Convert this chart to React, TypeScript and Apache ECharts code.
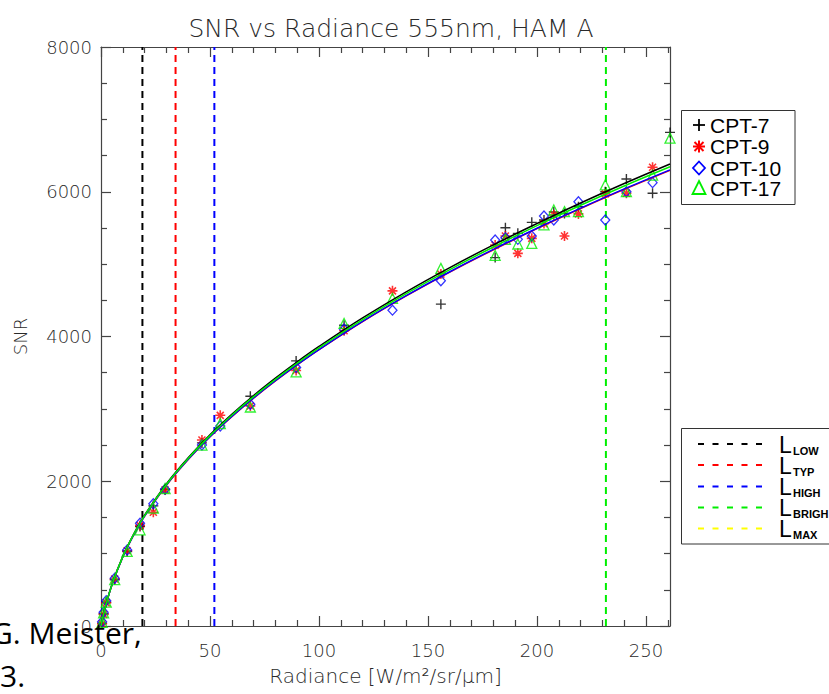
import React, { useEffect, useRef } from "react";
import * as echarts from "echarts";

// ---------- axis ticks ----------
const xTickValues = [0, 50, 100, 150, 200, 250];
const xMinorTickValues = [10, 20, 30, 40, 60, 70, 80, 90, 110, 120, 130, 140, 160, 170, 180, 190, 210, 220, 230, 240, 260];
const yMinorTickValues = [500, 1000, 1500, 2500, 3000, 3500, 4500, 5000, 5500, 6500, 7000, 7500];

// ---------- measured points ----------
const rad7 = [0.5, 1.2, 2.4, 6.3, 12.0, 17.9, 24.0, 29.4, 46.3, 68.5, 89.5, 111.5, 155.9, 180.8, 185.5, 191.2, 197.6, 203.2, 207.7, 212.6, 219.0, 231.3, 241.0, 253.0, 261.0];
const snr7 = [40, 170, 330, 640, 1030, 1374, 1660, 1890, 2530, 3174, 3663, 4156, 4447, 5090, 5503, 5425, 5577, 5610, 5720, 5700, 5794, 6000, 6177, 5979, 6820];

const rad9 = [0.5, 1.2, 2.4, 6.3, 12.0, 17.9, 24.0, 29.4, 46.3, 54.7, 68.5, 89.5, 111.5, 133.7, 155.9, 180.8, 185.5, 191.2, 197.6, 203.2, 207.7, 212.6, 219.0, 231.3, 241.0, 253.0];
const snr9 = [30, 160, 320, 650, 1040, 1390, 1572, 1880, 2570, 2911, 3040, 3530, 4080, 4631, 4862, 5263, 5388, 5149, 5356, 5560, 5679, 5388, 5694, 5970, 5980, 6339];

const rad10 = [0.5, 1.2, 2.4, 6.3, 12.0, 17.9, 24.0, 29.4, 46.3, 54.7, 68.5, 89.5, 111.5, 133.7, 155.9, 180.8, 185.5, 191.2, 197.6, 203.2, 207.7, 219.0, 231.3, 241.0, 253.0];
const snr10 = [60, 190, 350, 660, 1050, 1420, 1690, 1890, 2500, 2762, 3063, 3571, 4100, 4364, 4770, 5333, 5365, 5342, 5388, 5665, 5610, 5863, 5610, 6001, 6126];

const rad17 = [0.5, 1.2, 2.4, 6.3, 12.0, 17.9, 24.0, 29.4, 46.3, 54.7, 68.5, 89.5, 111.5, 133.7, 155.9, 180.8, 185.5, 191.2, 197.6, 203.2, 207.7, 212.6, 219.0, 231.3, 241.0, 253.0, 261.0];
const snr17 = [50, 180, 330, 640, 1030, 1329, 1630, 1900, 2500, 2796, 3026, 3510, 4180, 4526, 4941, 5120, 5342, 5278, 5287, 5541, 5748, 5725, 5725, 6094, 6001, 6230, 6740];

// ---------- fitted curves ----------
const fitRadiance = [0, 2, 5, 10, 15, 20, 30, 40, 50, 60, 70, 80, 90, 100, 120, 140, 160, 180, 200, 220, 240, 261];
const fit7 = [0, 263, 571, 962, 1271, 1531, 1964, 2325, 2642, 2925, 3184, 3424, 3650, 3862, 4256, 4617, 4952, 5266, 5562, 5845, 6114, 6384];
const fit9 = [0, 260, 565, 953, 1259, 1517, 1945, 2301, 2614, 2893, 3149, 3386, 3608, 3817, 4205, 4560, 4890, 5199, 5490, 5767, 6032, 6296];
const fit10 = [0, 261, 566, 954, 1260, 1518, 1947, 2303, 2616, 2896, 3152, 3389, 3611, 3820, 4209, 4564, 4895, 5204, 5496, 5773, 6039, 6303];
const fit17 = [0, 262, 568, 958, 1266, 1525, 1956, 2315, 2630, 2912, 3169, 3408, 3632, 3843, 4234, 4593, 4925, 5237, 5532, 5813, 6080, 6345];

// ---------- radiance levels ----------
const levelNames = ["LOW", "TYP", "HIGH", "BRIGH", "MAX"];
const levelRadiance = [19.0, 34.2, 52.0, 231.6];
const levelColors = ["#000000", "#ff0000", "#0000ff", "#00ee00", "#ffff00"];

const seriesNames = ["CPT-7", "CPT-9", "CPT-10", "CPT-17"];
const seriesColors = ["#000000", "#ff0000", "#0000ff", "#00ee00"];

const THIN = "DejaVu Sans";
const AXIS_COLOR = "#444";

const plusPath = "path://M5 0 L5 10 M0 5 L10 5";
const starPath = "path://M5 0 L5 10 M0 5 L10 5 M1.5 1.5 L8.5 8.5 M8.5 1.5 L1.5 8.5";

function zip(xs: number[], ys: number[]) {
  return xs.map((x, i) => [x, ys[i]]);
}

export default function App() {
  const ref = useRef<HTMLDivElement>(null);

  useEffect(() => {
    if (!ref.current) return;
    const chart = echarts.init(ref.current, undefined, { renderer: "svg" });

    const gridRect = { left: 101, top: 47, width: 569, height: 579 };

    const pointSeries: any[] = [
      {
        name: seriesNames[0], type: "scatter", xAxisIndex: 0, yAxisIndex: 0,
        data: zip(rad7, snr7), symbol: plusPath, symbolSize: 10,
        itemStyle: { color: "rgba(0,0,0,0)", borderColor: seriesColors[0], borderWidth: 1.4 }, z: 3,
      },
      {
        name: seriesNames[1], type: "scatter", xAxisIndex: 0, yAxisIndex: 0,
        data: zip(rad9, snr9), symbol: starPath, symbolSize: 10,
        itemStyle: { color: "rgba(0,0,0,0)", borderColor: seriesColors[1], borderWidth: 1.6 }, z: 3,
      },
      {
        name: seriesNames[2], type: "scatter", xAxisIndex: 0, yAxisIndex: 0,
        data: zip(rad10, snr10), symbol: "diamond", symbolSize: [9, 10],
        itemStyle: { color: "rgba(0,0,0,0)", borderColor: seriesColors[2], borderWidth: 1.3 }, z: 3,
      },
      {
        name: seriesNames[3], type: "scatter", xAxisIndex: 0, yAxisIndex: 0,
        data: zip(rad17, snr17), symbol: "triangle", symbolSize: [10, 10],
        itemStyle: { color: "rgba(0,0,0,0)", borderColor: seriesColors[3], borderWidth: 1.3 }, z: 3,
      },
    ];

    const fits = [fit7, fit9, fit10, fit17];
    const fitOrder = [0, 1, 2, 3];
    const fitSeries = fitOrder.map((k, i) => ({
      name: seriesNames[k] + " fit", type: "line", xAxisIndex: 0, yAxisIndex: 0,
      data: zip(fitRadiance, fits[k]), smooth: 0.4, showSymbol: false, symbol: "none",
      lineStyle: { color: seriesColors[k], width: 1.5 }, z: 4 + i, silent: true,
    }));

    const levelSeries = levelRadiance.map((v, i) => ({
      name: "L_" + levelNames[i], type: "line", xAxisIndex: 0, yAxisIndex: 0,
      data: [[v, 0], [v, 8000]], showSymbol: false, symbol: "none",
      lineStyle: { color: levelColors[i], width: 2, type: [7, 5] }, z: 2, silent: true,
    }));

    const labelFont = { fontFamily: THIN, fontWeight: 200, fontSize: 18, color: "#2a2a2a" };

    // legends (graphic)
    const graphics: any[] = [];
    const l1 = { x: 681.5, y: 110.5, w: 113.5, h: 94 };
    graphics.push({ type: "rect", shape: { x: l1.x, y: l1.y, width: l1.w, height: l1.h }, style: { fill: "#fff", stroke: "#333", lineWidth: 1 }, z: 10 });
    const rowY = [125, 146.5, 168, 188];
    const mx = 699;
    graphics.push({ type: "line", shape: { x1: mx - 6, y1: rowY[0], x2: mx + 6, y2: rowY[0] }, style: { stroke: "#000", lineWidth: 1.8 }, z: 11 });
    graphics.push({ type: "line", shape: { x1: mx, y1: rowY[0] - 6, x2: mx, y2: rowY[0] + 6 }, style: { stroke: "#000", lineWidth: 1.8 }, z: 11 });
    [[0, -6, 0, 6], [-6, 0, 6, 0], [-4.5, -4.5, 4.5, 4.5], [4.5, -4.5, -4.5, 4.5]].forEach((s) =>
      graphics.push({ type: "line", shape: { x1: mx + s[0], y1: rowY[1] + s[1], x2: mx + s[2], y2: rowY[1] + s[3] }, style: { stroke: "#ff0000", lineWidth: 2 }, z: 11 })
    );
    graphics.push({ type: "polygon", shape: { points: [[mx, rowY[2] - 6.5], [mx + 6, rowY[2]], [mx, rowY[2] + 6.5], [mx - 6, rowY[2]]] }, style: { fill: "none", stroke: "#0000ff", lineWidth: 1.8 }, z: 11 });
    graphics.push({ type: "polygon", shape: { points: [[mx, rowY[3] - 7], [mx + 6.5, rowY[3] + 6], [mx - 6.5, rowY[3] + 6]] }, style: { fill: "none", stroke: "#00ee00", lineWidth: 1.8 }, z: 11 });
    seriesNames.forEach((n, i) => {
      graphics.push({
        type: "text", x: 710, y: rowY[i],
        style: { text: n, fill: "#000", fontSize: 21, fontFamily: "Liberation Sans", align: "left", textAlign: "left", verticalAlign: "middle", textVerticalAlign: "middle" },
        z: 11,
      });
    });

    const l2 = { x: 681.5, y: 428.5, w: 160, h: 115.5 };
    graphics.push({ type: "rect", shape: { x: l2.x, y: l2.y, width: l2.w, height: l2.h }, style: { fill: "#fff", stroke: "#333", lineWidth: 1 }, z: 10 });
    const row2Y = [444, 465, 486.5, 507.5, 528.5];
    levelNames.forEach((n, i) => {
      graphics.push({ type: "line", shape: { x1: 698, y1: row2Y[i], x2: 763, y2: row2Y[i] }, style: { stroke: levelColors[i], lineWidth: 2, lineDash: [6, 8.5] }, z: 11 });
      graphics.push({
        type: "text", x: 779, y: row2Y[i] + 0.5,
        style: { text: "L", fill: "#000", fontSize: 23, fontFamily: "Liberation Sans", align: "left", textAlign: "left", verticalAlign: "middle", textVerticalAlign: "middle" },
        z: 11,
      });
      graphics.push({
        type: "text", x: 793, y: row2Y[i] + 6.5,
        style: { text: n, fill: "#000", fontSize: 11, fontWeight: "bold", fontFamily: "Liberation Sans", align: "left", textAlign: "left", verticalAlign: "middle", textVerticalAlign: "middle" },
        z: 11,
      });
    });

    // slide overlay text
    graphics.push({
      type: "text", x: -9, y: 632,
      style: { text: "G. Meister,", fill: "#000", fontSize: 30, fontFamily: "Open Sans", align: "left", textAlign: "left", verticalAlign: "middle", textVerticalAlign: "middle" },
      z: 20,
    });
    graphics.push({
      type: "text", x: 0, y: 675,
      style: { text: "3.", fill: "#000", fontSize: 30, fontFamily: "Open Sans", align: "left", textAlign: "left", verticalAlign: "middle", textVerticalAlign: "middle" },
      z: 20,
    });

    const option: any = {
      animation: false,
      backgroundColor: "#fff",
      title: {
        text: "SNR vs Radiance 555nm, HAM A",
        left: 386, top: 11, textAlign: "center",
        textStyle: { fontFamily: THIN, fontWeight: 200, fontSize: 25, color: "#2a2a2a" },
      },
      grid: [gridRect, gridRect],
      xAxis: [
        {
          gridIndex: 0, type: "value", position: "bottom", min: 0, max: 261,
          axisLine: { show: true, onZero: false, lineStyle: { color: AXIS_COLOR, width: 1.2 } },
          axisTick: { show: true, inside: true, length: 10, customValues: xTickValues, lineStyle: { color: AXIS_COLOR, width: 1.2 } },
          axisLabel: { customValues: xTickValues, margin: 15, ...labelFont, formatter: (v: number) => String(v) },
          splitLine: { show: false },
          name: "Radiance [W/m²/sr/μm]", nameLocation: "middle", nameGap: 40,
          nameTextStyle: { fontFamily: THIN, fontWeight: 200, fontSize: 20, color: "#2a2a2a" },
        },
        {
          gridIndex: 0, type: "value", position: "top", min: 0, max: 261,
          axisLine: { show: true, onZero: false, lineStyle: { color: AXIS_COLOR, width: 1.2 } },
          axisTick: { show: true, inside: true, length: 10, customValues: xTickValues, lineStyle: { color: AXIS_COLOR, width: 1.2 } },
          axisLabel: { show: false }, splitLine: { show: false },
        },
        {
          gridIndex: 1, type: "value", position: "bottom", min: 0, max: 261,
          axisLine: { show: false, onZero: false },
          axisTick: { show: true, inside: true, length: 6, customValues: xMinorTickValues, lineStyle: { color: AXIS_COLOR, width: 1.2 } },
          axisLabel: { show: false }, splitLine: { show: false },
        },
        {
          gridIndex: 1, type: "value", position: "top", min: 0, max: 261,
          axisLine: { show: false, onZero: false },
          axisTick: { show: true, inside: true, length: 6, customValues: xMinorTickValues, lineStyle: { color: AXIS_COLOR, width: 1.2 } },
          axisLabel: { show: false }, splitLine: { show: false },
        },
      ],
      yAxis: [
        {
          gridIndex: 0, type: "value", position: "left", min: 0, max: 8000, interval: 2000,
          axisLine: { show: true, onZero: false, lineStyle: { color: AXIS_COLOR, width: 1.2 } },
          axisTick: { show: true, inside: true, length: 10, lineStyle: { color: AXIS_COLOR, width: 1.2 } },
          axisLabel: { margin: 9, ...labelFont, formatter: (v: number) => String(v) },
          splitLine: { show: false },
          name: "SNR", nameLocation: "middle", nameGap: 72,
          nameTextStyle: { fontFamily: THIN, fontWeight: 200, fontSize: 18, color: "#2a2a2a" },
        },
        {
          gridIndex: 0, type: "value", position: "right", min: 0, max: 8000, interval: 2000,
          axisLine: { show: true, onZero: false, lineStyle: { color: AXIS_COLOR, width: 1.2 } },
          axisTick: { show: true, inside: true, length: 10, lineStyle: { color: AXIS_COLOR, width: 1.2 } },
          axisLabel: { show: false }, splitLine: { show: false },
        },
        {
          gridIndex: 1, type: "value", position: "left", min: 0, max: 8000,
          axisLine: { show: false, onZero: false },
          axisTick: { show: true, inside: true, length: 6, customValues: yMinorTickValues, lineStyle: { color: AXIS_COLOR, width: 1.2 } },
          axisLabel: { show: false }, splitLine: { show: false },
        },
        {
          gridIndex: 1, type: "value", position: "right", min: 0, max: 8000,
          axisLine: { show: false, onZero: false },
          axisTick: { show: true, inside: true, length: 6, customValues: yMinorTickValues, lineStyle: { color: AXIS_COLOR, width: 1.2 } },
          axisLabel: { show: false }, splitLine: { show: false },
        },
      ],
      series: [...levelSeries, ...pointSeries, ...fitSeries],
      graphic: graphics,
    };

    chart.setOption(option);
    return () => chart.dispose();
  }, []);

  return <div ref={ref} style={{ width: 829, height: 694, position: "absolute", left: 0, top: 0 }} />;
}
